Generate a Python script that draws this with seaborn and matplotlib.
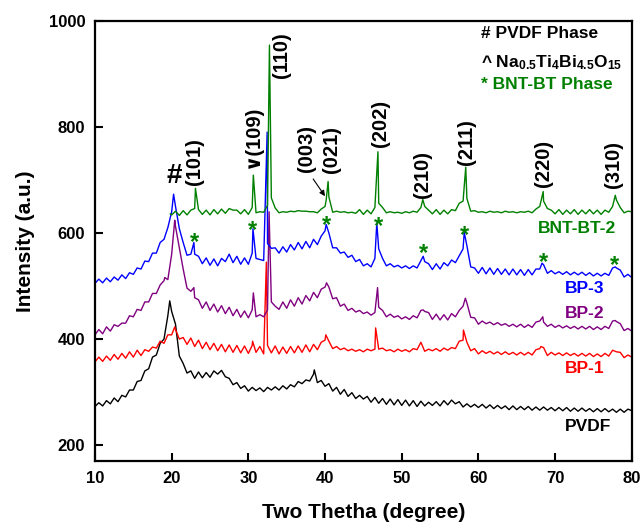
import numpy as np
import pandas as pd
import matplotlib
matplotlib.use('Agg')
import matplotlib.pyplot as plt
import seaborn as sns

# 2-theta grid (0.5 deg steps), intensities
two_theta = np.arange(10, 80.01, 0.5)

pvdf = [273, 280, 274, 284, 278, 289, 282, 294, 291, 304,
        304, 320, 322, 340, 344, 366, 370, 392, 400, 444,
        452, 428, 368, 354, 336, 340, 326, 338, 327, 337,
        328, 340, 334, 341, 329, 326, 314, 318, 307, 312,
        302, 309, 303, 308, 301, 309, 304, 310, 304, 312,
        306, 314, 310, 320, 316, 323, 321, 334, 318, 322,
        311, 316, 302, 309, 296, 305, 292, 299, 288, 294,
        287, 292, 281, 290, 279, 288, 277, 287, 276, 286,
        275, 285, 274, 284, 273, 283, 274, 281, 275, 282,
        274, 284, 276, 285, 278, 282, 272, 278, 272, 277,
        271, 277, 270, 276, 269, 275, 269, 274, 267, 274,
        267, 273, 267, 273, 266, 272, 266, 272, 266, 271,
        265, 271, 265, 271, 264, 270, 264, 270, 264, 269,
        263, 269, 263, 269, 263, 268, 262, 268, 262, 268,
        265]
pvdf_peak_x = [19.75, 38.6]
pvdf_peak_y = [472, 342]

bp1 = [357, 366, 358, 368, 360, 371, 362, 373, 364, 376,
       366, 379, 369, 380, 377, 385, 383, 396, 392, 408,
       408, 418, 400, 403, 390, 402, 386, 398, 382, 394,
       380, 392, 378, 390, 376, 389, 375, 388, 374, 387,
       373, 388, 375, 386, 372, 388, 374, 387, 372, 385,
       373, 386, 374, 387, 375, 389, 376, 390, 380, 394,
       398, 396, 382, 386, 380, 383, 378, 381, 377, 380,
       376, 381, 378, 381, 381, 383, 378, 380, 376, 381,
       377, 380, 376, 382, 380, 394, 377, 381, 378, 382,
       377, 383, 379, 384, 382, 396, 398, 394, 378, 382,
       372, 378, 373, 377, 372, 376, 371, 376, 371, 375,
       370, 375, 370, 375, 370, 380, 382, 384, 369, 375,
       370, 374, 369, 374, 369, 373, 368, 373, 368, 373,
       367, 372, 367, 373, 368, 379, 376, 375, 365, 370,
       366]
bp1_peak_x = [20.4, 30.55, 32.35, 40.1, 46.6, 58.05, 68.15]
bp1_peak_y = [423, 396, 545, 408, 421, 417, 386]

bp2 = [408, 418, 410, 423, 415, 427, 424, 430, 430, 444,
       442, 456, 454, 470, 470, 486, 486, 502, 510, 512,
       560, 612, 572, 532, 496, 490, 478, 474, 458, 470,
       454, 466, 451, 463, 448, 460, 444, 456, 441, 453,
       440, 455, 442, 446, 442, 455, 470, 462, 456, 470,
       458, 474, 462, 478, 466, 482, 472, 488, 478, 494,
       498, 498, 476, 478, 462, 466, 454, 458, 451, 454,
       448, 451, 445, 450, 460, 454, 442, 447, 441, 444,
       438, 442, 437, 444, 440, 454, 452, 450, 437, 447,
       436, 446, 436, 448, 442, 454, 462, 468, 441, 440,
       428, 434, 429, 432, 427, 431, 426, 429, 424, 428,
       423, 428, 422, 427, 422, 432, 434, 432, 424, 428,
       422, 426, 421, 425, 420, 424, 419, 424, 419, 424,
       418, 423, 418, 424, 420, 434, 433, 429, 416, 420,
       415]
bp2_peak_x = [19.1, 20.4, 22.9, 30.65, 32.7, 40.2, 46.85, 52.8, 58.3, 68.4, 77.85]
bp2_peak_y = [516, 624, 497, 487, 640, 506, 497, 455, 477, 442, 435]

bp3 = [505, 513, 506, 515, 508, 517, 511, 521, 514, 525,
       522, 534, 532, 547, 546, 562, 562, 582, 588, 610,
       640, 650, 608, 582, 558, 560, 560, 556, 542, 553,
       539, 551, 538, 552, 546, 560, 544, 556, 541, 553,
       541, 562, 552, 550, 548, 580, 571, 572, 562, 574,
       564, 578, 568, 582, 570, 584, 572, 588, 578, 594,
       604, 600, 572, 572, 562, 564, 554, 558, 546, 550,
       538, 542, 536, 552, 570, 552, 538, 542, 536, 539,
       534, 538, 533, 538, 534, 548, 546, 542, 531, 542,
       532, 544, 538, 549, 544, 557, 570, 576, 536, 534,
       524, 535, 523, 534, 522, 533, 522, 532, 521, 532,
       521, 531, 520, 531, 521, 532, 532, 540, 524, 529,
       523, 527, 522, 527, 521, 526, 521, 526, 520, 525,
       519, 524, 519, 524, 520, 534, 534, 530, 517, 522,
       516]
bp3_peak_x = [20.25, 22.9, 30.6, 32.45, 40.15, 46.75, 52.8, 58.15, 68.3, 77.85]
bp3_peak_y = [673, 582, 608, 790, 616, 619, 556, 601, 543, 536]

# BNT-BT-2 starts at 20 deg
bntbt = [634, 641, 633, 642, 634, 643, 646, 644, 635, 643,
         634, 644, 636, 645, 637, 646, 643, 643, 636, 644,
         635, 648, 638, 640, 639, 652, 666, 647, 638, 640,
         639, 641, 640, 642, 641, 641, 640, 640, 638, 645,
         650, 668, 639, 641, 639, 640, 638, 639, 637, 644,
         635, 643, 636, 648, 656, 648, 638, 640, 638, 639,
         637, 640, 638, 641, 639, 648, 650, 643, 636, 644,
         635, 643, 636, 644, 642, 656, 660, 665, 641, 642,
         639, 640, 638, 641, 639, 640, 638, 641, 639, 640,
         638, 640, 639, 641, 638, 645, 650, 660, 646, 643,
         636, 644, 635, 643, 636, 644, 635, 643, 636, 644,
         636, 643, 635, 643, 639, 650, 662, 648, 638, 641,
         640]
bntbt_peak_x = [19.8, 23.1, 30.65, 32.75, 40.15, 40.4, 46.9, 52.75, 58.35, 68.45, 77.85]
bntbt_peak_y = [636, 684, 709, 954, 662, 697, 753, 663, 724, 678, 671]

samples = ['PVDF', 'BP-1', 'BP-2', 'BP-3', 'BNT-BT-2']
colors = ['black', '#ff0000', '#800080', '#0000ff', '#008000']

# annotations
hkl_labels = ['(101)', '\u2228(109)', '(110)', '(003)', '(021)', '(202)', '(210)', '(211)', '(220)', '(310)']
hkl_x = [23.0, 30.6, 34.3, 37.6, 40.85, 47.2, 52.7, 58.4, 68.45, 77.6]
hkl_y = [690, 722, 892, 715, 713, 762, 665, 728, 687, 684]

star_x = [22.95, 30.55, 40.2, 46.94, 52.9, 58.24, 68.45, 77.8]
star_y = [593, 616, 626, 624, 573, 607, 555, 549]

label_x = [71.3, 71.3, 71.3, 71.3, 67.8]
label_y = [235, 345, 449, 496, 609]

frames = []
for name, x0, y0, px, py in [
        ('PVDF', two_theta, pvdf, pvdf_peak_x, pvdf_peak_y),
        ('BP-1', two_theta, bp1, bp1_peak_x, bp1_peak_y),
        ('BP-2', two_theta, bp2, bp2_peak_x, bp2_peak_y),
        ('BP-3', two_theta, bp3, bp3_peak_x, bp3_peak_y),
        ('BNT-BT-2', two_theta[20:], bntbt, bntbt_peak_x, bntbt_peak_y)]:
    frames.append(pd.DataFrame({'two_theta': list(x0) + px,
                                'intensity': list(y0) + py,
                                'sample': name}))
df = pd.concat(frames, ignore_index=True)

sns.set_style('ticks')
plt.rcParams['font.family'] = ['Liberation Sans', 'DejaVu Sans']
plt.rcParams['text.color'] = 'black'
plt.rcParams['axes.labelcolor'] = 'black'
plt.rcParams['axes.edgecolor'] = 'black'
plt.rcParams['xtick.color'] = 'black'
plt.rcParams['ytick.color'] = 'black'
plt.rcParams['mathtext.fontset'] = 'custom'
plt.rcParams['mathtext.rm'] = 'Liberation Sans:bold'
plt.rcParams['mathtext.it'] = 'Liberation Sans:bold'
plt.rcParams['mathtext.bf'] = 'Liberation Sans:bold'
plt.rcParams['mathtext.default'] = 'rm'

fig, ax = plt.subplots(figsize=(6.44, 5.24), dpi=100)
fig.subplots_adjust(left=0.1475, right=0.981, top=0.9605, bottom=0.12)

sns.lineplot(data=df, x='two_theta', y='intensity', hue='sample',
             hue_order=samples, palette=colors, estimator=None, sort=True,
             linewidth=1.0, legend=False, ax=ax)

ax.set_xlim(10, 80)
ax.set_ylim(170, 1000)
ax.set_xticks(range(10, 81, 10))
ax.set_yticks(range(200, 1001, 200))
ax.tick_params(direction='in', length=6, width=1.5, labelsize=12, pad=7)
for lbl in ax.get_xticklabels() + ax.get_yticklabels():
    lbl.set_fontweight('bold')
for sp in ax.spines.values():
    sp.set_linewidth(1.6)
    sp.set_color('black')

ax.set_xlabel('Two Thetha (degree)', fontsize=15, fontweight='bold', labelpad=12)
ax.set_ylabel('Intensity (a.u.)', fontsize=15, fontweight='bold', labelpad=10)

for t, x, y in zip(hkl_labels, hkl_x, hkl_y):
    ax.text(x, y, t, rotation=90, ha='center', va='bottom',
            fontsize=14.5, fontweight='bold')
ax.text(20.4, 707, '#', ha='center', va='center', fontsize=20, fontweight='bold')
ax.annotate('', xy=(40.2, 665), xytext=(38.25, 706),
            arrowprops=dict(arrowstyle='-|>', color='black', lw=0.8, mutation_scale=8))

for x, y in zip(star_x, star_y):
    ax.annotate('*', xy=(x, y), xytext=(0, -9), textcoords='offset points',
                ha='center', va='baseline', fontsize=17, fontweight='bold',
                color='#008000')

for name, c, x, y in zip(samples, colors, label_x, label_y):
    ax.text(x, y, name, ha='left', va='center', fontsize=12.5,
            fontweight='bold', color=c)

ax.text(60.3, 976, '# PVDF Phase', ha='left', va='center', fontsize=12.5, fontweight='bold')
ax.text(60.3, 920, r'^ Na$_{0.5}$Ti$_4$Bi$_{4.5}$O$_{15}$', ha='left', va='center',
        fontsize=12.5, fontweight='bold')
ax.text(60.3, 879, '* BNT-BT Phase', ha='left', va='center', fontsize=12.5,
        fontweight='bold', color='#008000')

plt.savefig('out.png', dpi=100)
